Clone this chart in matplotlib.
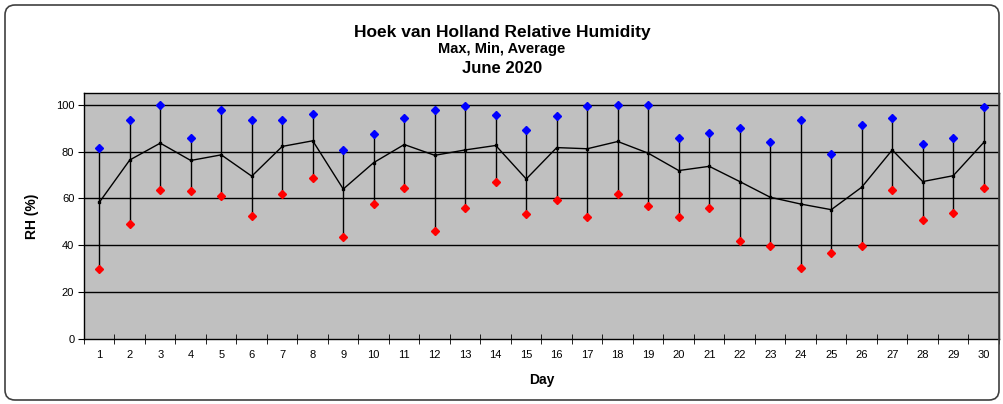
import matplotlib
matplotlib.use("Agg")
import matplotlib.pyplot as plt
from matplotlib.patches import FancyBboxPatch
import numpy as np

plt.rcParams['font.family'] = ['Liberation Sans', 'DejaVu Sans']

days = list(range(1, 31))
rh_max = [81.4, 93.3, 99.7, 86.0, 97.7, 93.3, 93.3, 95.9, 80.6, 87.3,
          94.4, 97.7, 99.6, 95.4, 89.3, 95.3, 99.3, 100.0, 100.0, 85.7,
          88.0, 90.0, 84.0, 93.4, 79.1, 91.3, 94.4, 83.4, 85.7, 99.0]
rh_min = [29.8, 49.0, 63.7, 63.2, 60.9, 52.3, 62.0, 68.6, 43.6, 57.5,
          64.6, 45.9, 55.8, 66.9, 53.2, 59.3, 52.0, 61.9, 56.9, 52.2,
          56.0, 41.8, 39.5, 30.2, 36.7, 39.6, 63.5, 50.9, 53.7, 64.6]
rh_avg = [58.3, 76.4, 83.6, 76.2, 78.6, 69.5, 82.2, 84.6, 64.0, 75.3,
          83.0, 78.4, 80.7, 82.6, 68.3, 81.7, 81.2, 84.3, 79.3, 71.9,
          73.7, 67.2, 60.5, 57.6, 55.2, 64.8, 80.7, 67.2, 69.7, 83.9]
yticks = [0, 20, 40, 60, 80, 100]

W, H = 1004, 404
fig = plt.figure(figsize=(W / 100, H / 100), dpi=100)
fig.patch.set_facecolor('white')

border = FancyBboxPatch((5, 4), 994, 395,
                        boxstyle="round,pad=0,rounding_size=10",
                        transform=None, facecolor='none',
                        edgecolor='#404040', linewidth=1.2, zorder=5)
fig.patches.append(border)

ax = fig.add_axes([84 / W, (H - 339) / H, (999 - 84) / W, (339 - 93) / H])
ax.set_facecolor('#C0C0C0')

x = np.arange(len(days))
ax.set_xlim(-0.5, len(days) - 0.5)
ax.set_ylim(0, 105)

for yv in yticks[1:]:
    ax.axhline(yv, color='black', linewidth=1.0, zorder=1)

ax.vlines(x, rh_min, rh_max, color='black', linewidth=1.0, zorder=2)
ax.plot(x, rh_avg, color='black', linewidth=1.0, marker='s', markersize=2,
        zorder=3)
ax.plot(x, rh_max, linestyle='none', marker='D', markersize=4.5,
        color='#0000FF', markeredgecolor='#0000FF', zorder=4)
ax.plot(x, rh_min, linestyle='none', marker='D', markersize=4.5,
        color='#FF0000', markeredgecolor='#FF0000', zorder=4)

ax.set_xticks(x)
ax.set_xticklabels([str(d) for d in days], fontsize=8)
ax.set_xticks(np.arange(-0.5, len(days), 1.0), minor=True)
ax.tick_params(axis='x', which='major', length=0, pad=8)
ax.tick_params(axis='x', which='minor', length=7, direction='inout', color='black')
ax.set_yticks(yticks)
ax.set_yticklabels([str(v) for v in yticks], fontsize=8)
ax.tick_params(axis='y', length=4, direction='out', pad=3)

for s in ax.spines.values():
    s.set_color('black')
    s.set_linewidth(1.0)

ax.set_xlabel('Day', fontsize=10, fontweight='bold', labelpad=9)
ax.set_ylabel('RH (%)', fontsize=10, fontweight='bold', labelpad=12)

fig.text(0.5, 1 - 32 / H, 'Hoek van Holland Relative Humidity', ha='center',
         va='center', fontsize=12.5, fontweight='bold')
fig.text(0.5, 1 - 49.5 / H, 'Max, Min, Average', ha='center', va='center',
         fontsize=10.5, fontweight='bold')
fig.text(0.5, 1 - 68.5 / H, 'June 2020', ha='center', va='center',
         fontsize=12, fontweight='bold')

fig.savefig('out.png', dpi=100)
